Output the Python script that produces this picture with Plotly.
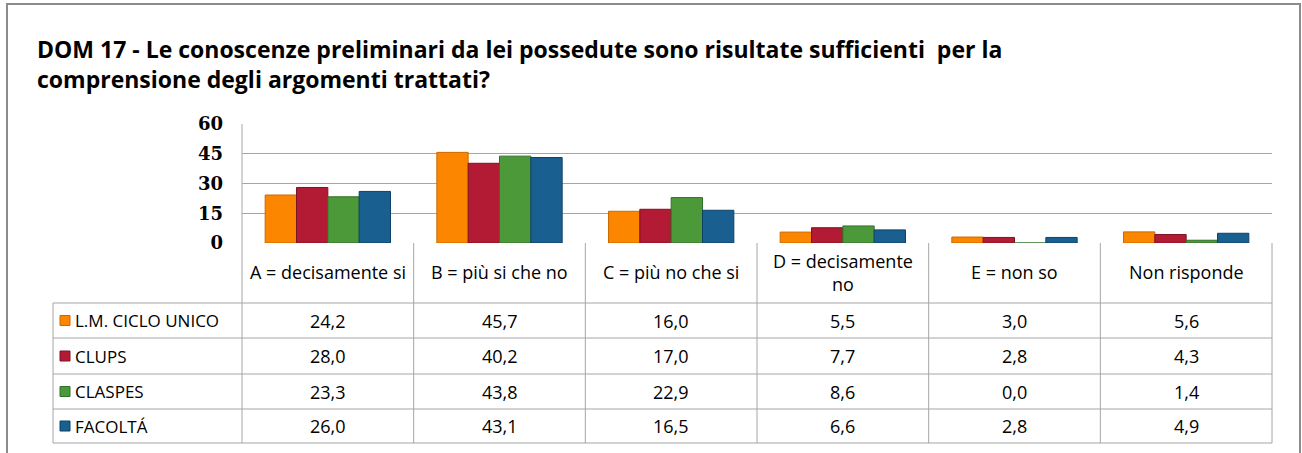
import plotly.graph_objects as go

W, H = 1302, 453

categories = ["A = decisamente si", "B = più si che no", "C = più no che si",
              "D = decisamente<br>no", "E = non so", "Non risponde"]
series_names = ["L.M. CICLO UNICO", "CLUPS", "CLASPES", "FACOLTÁ"]
lm_ciclo_unico = [24.2, 45.7, 16.0, 5.5, 3.0, 5.6]
clups = [28.0, 40.2, 17.0, 7.7, 2.8, 4.3]
claspes = [23.3, 43.8, 22.9, 8.6, 0.0, 1.4]
facolta = [26.0, 43.1, 16.5, 6.6, 2.8, 4.9]
y_ticks = [0, 15, 30, 45, 60]
title_text = ("DOM 17 - Le conoscenze preliminari da lei possedute sono risultate sufficienti  per la"
              "<br>comprensione degli argomenti trattati?")

series_values = [lm_ciclo_unico, clups, claspes, facolta]
colors = ["#FC8600", "#B31A33", "#4C993A", "#195F90"]
edge_colors = ["#C96A00", "#7E1224", "#33702A", "#0F4168"]

FONT = "Open Sans"
GRID = "#A6A6A6"

def px(x):
    return x / W

def py(y):
    return 1 - y / H

plot_left, plot_right = 242, 1272
plot_top, plot_bottom = 124, 243
cat_row_bottom = 303
row_lines = [303, 338, 374, 409, 443]
table_left = 53

fig = go.Figure()
for name, vals, c, ec in zip(series_names, series_values, colors, edge_colors):
    fig.add_trace(go.Bar(
        x=categories, y=vals, name=name,
        marker=dict(color=c, line=dict(color=ec, width=1)),
        showlegend=False,
    ))

line_style = dict(color=GRID, width=1)
shapes = []
# outer border
shapes.append(dict(type="rect", xref="paper", yref="paper",
                   x0=px(7), x1=px(1300), y0=py(470), y1=py(4),
                   line=dict(color="#8C8C8C", width=2), fillcolor="rgba(0,0,0,0)", layer="above"))
n = len(categories)
shapes.append(dict(type="line", xref="paper", yref="paper",
                   x0=px(plot_right), x1=px(plot_right), y0=py(plot_bottom), y1=py(row_lines[-1]),
                   line=line_style))
shapes.append(dict(type="line", xref="paper", yref="paper",
                   x0=px(plot_left), x1=px(plot_left), y0=py(plot_top), y1=py(row_lines[-1]),
                   line=line_style))
shapes.append(dict(type="line", xref="paper", yref="paper",
                   x0=px(table_left), x1=px(table_left), y0=py(row_lines[0]), y1=py(row_lines[-1]),
                   line=line_style))
for i in range(1, n):
    shapes.append(dict(type="line", xref="x", yref="paper",
                       x0=i - 0.5, x1=i - 0.5, y0=py(plot_bottom), y1=py(row_lines[-1]),
                       line=line_style))
for yy in row_lines:
    shapes.append(dict(type="line", xref="paper", yref="paper",
                       x0=px(table_left), x1=px(plot_right), y0=py(yy), y1=py(yy),
                       line=line_style))

annotations = []
annotations.append(dict(x=px(35), xref="paper", y=py(31), yref="paper", text=title_text,
                        showarrow=False, xanchor="left", yanchor="top", align="left",
                        font=dict(family=FONT, size=23, color="#000", weight="bold")))
for c in categories:
    annotations.append(dict(x=c, xref="x", y=py((plot_bottom + cat_row_bottom) / 2 - 1), yref="paper",
                            text=c, showarrow=False, xanchor="center", yanchor="middle",
                            font=dict(family=FONT, size=18, color="#000")))
for r, (name, vals, c, ec) in enumerate(zip(series_names, series_values, colors, edge_colors)):
    yc = (row_lines[r] + row_lines[r + 1]) / 2
    shapes.append(dict(type="rect", xref="paper", yref="paper",
                       x0=px(60), x1=px(70), y0=py(yc + 5), y1=py(yc - 5),
                       fillcolor=c, line=dict(color=ec, width=1)))
    annotations.append(dict(x=px(73), xref="paper", y=py(yc), yref="paper", text=name,
                            showarrow=False, xanchor="left", yanchor="middle",
                            font=dict(family=FONT, size=17, color="#000")))
    for cat, v in zip(categories, vals):
        annotations.append(dict(x=cat, xref="x", y=py(yc), yref="paper",
                                text=f"{v:.1f}".replace(".", ","),
                                showarrow=False, xanchor="center", yanchor="middle",
                                font=dict(family=FONT, size=18, color="#000")))

fig.update_layout(
    template="none",
    width=W, height=H, autosize=False,
    margin=dict(l=0, r=0, t=0, b=0, pad=0),
    paper_bgcolor="white", plot_bgcolor="white",
    barmode="group", bargap=0.27, bargroupgap=0,
    xaxis=dict(domain=[px(plot_left), px(plot_right)], showticklabels=False, showgrid=False,
               zeroline=False, showline=False, ticks="", automargin=False),
    yaxis=dict(domain=[py(plot_bottom), py(plot_top)], range=[0, 60], tickvals=y_ticks,
               showgrid=True, gridcolor=GRID, gridwidth=1, zeroline=False, showline=False,
               ticks="", ticklabelstandoff=18, automargin=False,
               tickfont=dict(family="DejaVu Serif", size=18, color="#000", weight="bold")),
    shapes=shapes, annotations=annotations,
)

fig.write_html("out.html", config={"displayModeBar": False},
               post_script="document.body.style.margin='0';document.body.style.overflow='hidden';")
